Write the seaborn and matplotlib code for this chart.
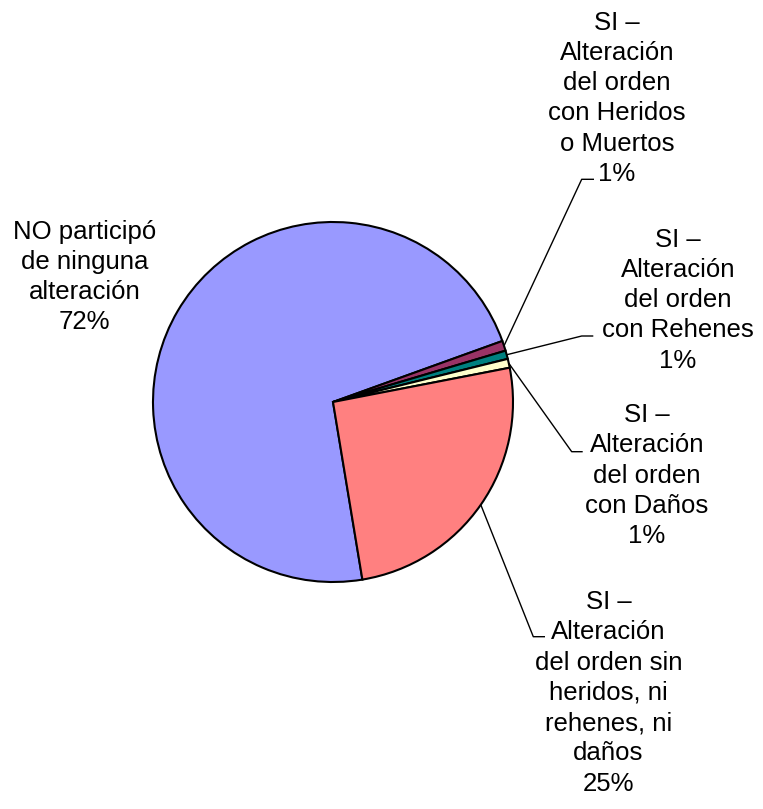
"""
Pie chart: participation in order disturbances (SI / NO), Excel-style labels
with leader lines.
"""
import matplotlib
matplotlib.use("Agg")
import matplotlib.pyplot as plt
import numpy as np
import seaborn as sns

# ── Data ─────────────────────────────────────────────────────────────────────
categories = [
    "NO participó\nde ninguna\nalteración",
    "SI –\nAlteración\ndel orden\ncon Heridos\no Muertos",
    "SI –\nAlteración\ndel orden\ncon Rehenes",
    "SI –\nAlteración\ndel orden\ncon Daños",
    "SI –\nAlteración\ndel orden sin\nheridos, ni\nrehenes, ni\ndaños",
]
shares = [72.0, 0.9, 0.75, 0.8, 25.4]
colors = ["#9999FF", "#993366", "#008080", "#FFFFCC", "#FF8080"]

# ── Layout (pixels, origin top-left) ─────────────────────────────────────────
W, H = 763, 809
CX, CY, R = 333, 402, 180
# label block: centre x, first baseline y
label_pos = [(84.5, 238.5), (617, 29.5), (678, 246.5), (647, 422), (608.5, 609)]
# leader elbow (x, y) and end of the short horizontal tick; None = no leader
leader_elbow = [None, (581.7, 179.3), (581.7, 336), (571.7, 451.7), (533.3, 636.7)]
leader_tick = [None, 594, 593.3, 582.7, 545]
LINE_STEP = 30.3

sns.set_theme(style="white")
plt.rcParams["font.family"] = ["Liberation Sans", "DejaVu Sans"]

fig = plt.figure(figsize=(W / 100, H / 100), dpi=100)
ax = fig.add_axes([0, 0, 1, 1])

wedges, _ = ax.pie(
    shares, colors=colors, startangle=-80.6, counterclock=False,
    center=(CX, H - CY), radius=R,
    wedgeprops=dict(edgecolor="black", linewidth=1.5),
)
ax.set_xlim(0, W)
ax.set_ylim(0, H)
ax.set_aspect("equal")
ax.axis("off")

for i, (w, text, v) in enumerate(zip(wedges, categories, shares)):
    lines = text.split("\n") + [f"{v:.0f}%"]
    cx, base = label_pos[i]
    for k, line in enumerate(lines):
        ax.text(cx, H - (base + k * LINE_STEP), line, ha="center", va="baseline",
                fontsize=18.5, color="black")

    if leader_elbow[i] is not None:
        mid = np.deg2rad((w.theta1 + w.theta2) / 2)
        x0 = CX + R * np.cos(mid)
        y0 = (H - CY) + R * np.sin(mid)
        ex, ey = leader_elbow[i]
        ax.plot([x0, ex, leader_tick[i]], [y0, H - ey, H - ey],
                color="black", lw=1.0, solid_capstyle="butt")

fig.savefig("out.png", dpi=100, facecolor="white")
